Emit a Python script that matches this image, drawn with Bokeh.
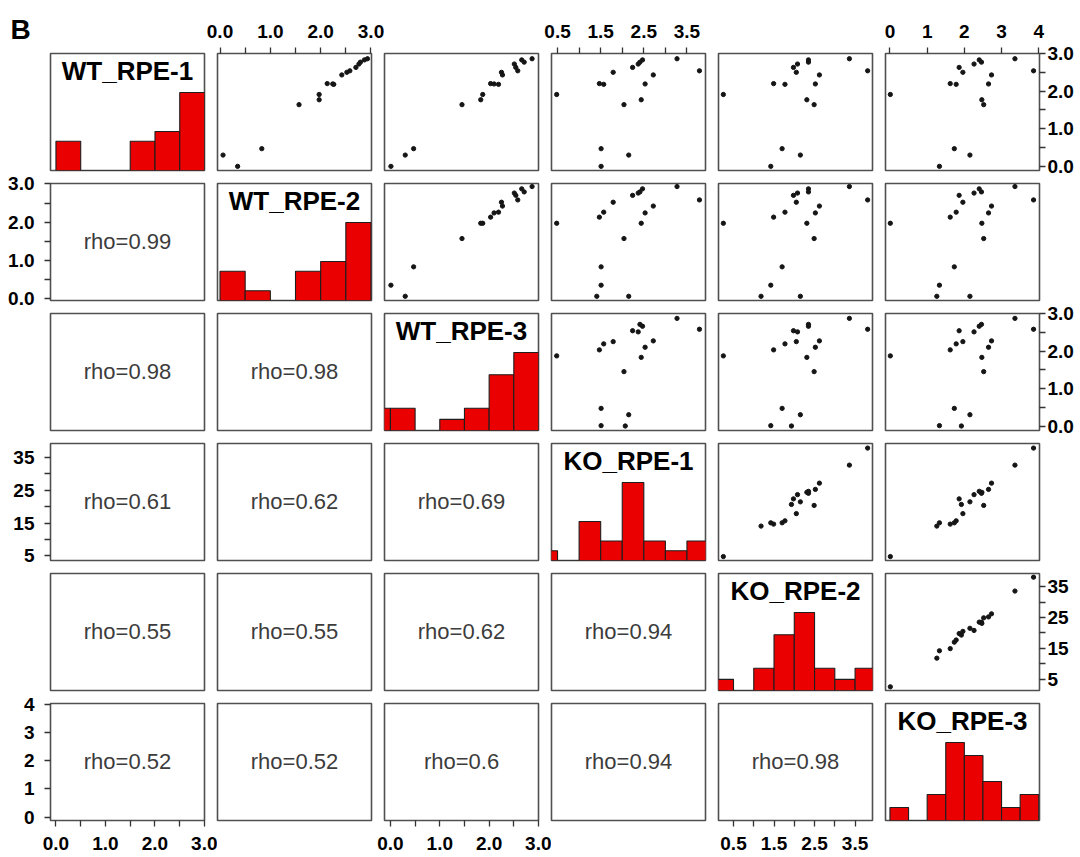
import math
from bokeh.plotting import figure
from bokeh.models import GridBox, Range1d, LinearAxis, FixedTicker, NumeralTickFormatter
from bokeh.core.properties import value
from bokeh.embed import file_html
from bokeh.resources import INLINE

nan = float("nan")

# ---------------- data ----------------
names = ["WT_RPE-1", "WT_RPE-2", "WT_RPE-3", "KO_RPE-1", "KO_RPE-2", "KO_RPE-3"]

wt_rpe_1 = [1.91, 2.20, 2.18, 2.50, 1.64, 2.63, 2.72, 2.77, 2.83, 1.77, 2.19, 2.43, 2.86, 2.54, 0.47, 0.00, nan, 0.30, nan]
wt_rpe_2 = [1.97, 2.13, 2.26, 2.52, 1.57, 2.70, 2.76, 2.79, 2.87, 1.97, 2.24, 2.42, 2.93, 2.58, 0.83, 0.35, 0.06, 0.06, nan]
wt_rpe_3 = [1.87, 2.03, 2.19, 2.25, 1.45, 2.54, 2.51, 2.71, 2.66, 1.83, 2.10, 2.27, 2.87, 2.58, 0.47, 0.01, nan, 0.30, 0.00]
ko_rpe_1 = [0.48, 1.47, 1.57, 1.79, 2.04, 2.24, 2.37, 2.41, 2.47, 2.44, 2.53, 2.72, 3.27, 3.79, 1.51, 1.51, 1.41, 2.15, 2.07]
ko_rpe_2 = [0.25, 1.49, 1.77, 2.05, 2.49, 1.98, 2.08, 2.35, 2.35, 2.31, 2.52, 2.62, 3.36, 3.81, 1.70, 1.42, 1.18, 2.15, 1.93]
ko_rpe_3 = [0.01, 1.62, 1.78, 1.96, 2.52, 1.86, 2.26, 2.46, 2.40, 2.47, 2.65, 2.73, 3.36, 3.86, 1.73, 1.33, 1.26, 2.15, 1.92]
series = [wt_rpe_1, wt_rpe_2, wt_rpe_3, ko_rpe_1, ko_rpe_2, ko_rpe_3]

# histogram bins (edges) and counts on the diagonal
hist_breaks = [
    [0, 0.5, 1, 1.5, 2, 2.5, 3],
    [0, 0.5, 1, 1.5, 2, 2.5, 3],
    [-0.5, 0, 0.5, 1, 1.5, 2, 2.5, 3],
    [0, 0.5, 1, 1.5, 2, 2.5, 3, 3.5, 4],
    [0, 0.5, 1, 1.5, 2, 2.5, 3, 3.5, 4],
    [0, 0.5, 1, 1.5, 2, 2.5, 3, 3.5, 4],
]
hist_counts = [
    [3, 0, 0, 3, 4, 8],
    [3, 1, 0, 3, 4, 8],
    [2, 2, 0, 1, 2, 5, 7],
    [1, 0, 4, 2, 8, 2, 1, 2],
    [1, 0, 2, 5, 7, 2, 1, 2],
    [1, 0, 2, 6, 5, 3, 1, 2],
]

# Spearman rho shown in the lower panels, row by row
rho_values = [0.99,
              0.98, 0.98,
              0.61, 0.62, 0.69,
              0.55, 0.55, 0.62, 0.94,
              0.52, 0.52, 0.6, 0.94, 0.98]

# axis ranges and ticks for each variable
var_ranges = [(-0.11, 3.0), (-0.05, 3.01), (-0.12, 3.0), (0.36, 3.93), (0.13, 3.93), (-0.12, 4.02)]
tick_major = [[0, 1, 2, 3], [0, 1, 2, 3], [0, 1, 2, 3], [0.5, 1.5, 2.5, 3.5], [0.5, 1.5, 2.5, 3.5], [0, 1, 2, 3, 4]]
tick_minor = [[0.5, 1.5, 2.5], [0.5, 1.5, 2.5], [0.5, 1.5, 2.5], [1, 2, 3], [1, 2, 3], []]
tick_format = ["0.0", "0.0", "0.0", "0.0", "0.0", "0"]
y_label_scale = [1, 1, 1, 10, 10, 1]

panel_letter = "B"

# ---------------- layout ----------------
FW, FH, GAP = 154, 117, 13
LEFT, RIGHT, TOP, BOTTOM = 50, 41, 53, 37
FONT = "Liberation Sans"

top_cols = {1, 3, 5}
bottom_cols = {0, 2, 4}
left_rows = {1, 3, 5}
right_rows = {0, 2, 4}


def style_axis(ax, standoff):
    ax.major_label_text_font = FONT
    ax.major_label_text_font_style = "bold"
    ax.major_label_text_font_size = "19px"
    ax.major_label_text_color = "black"
    ax.axis_line_color = None
    ax.major_tick_out = 6
    ax.major_tick_in = 0
    ax.minor_tick_out = 6
    ax.minor_tick_in = 0
    ax.major_tick_line_color = "#333333"
    ax.minor_tick_line_color = "#333333"
    ax.major_tick_line_width = 1.3
    ax.minor_tick_line_width = 1.3
    ax.major_label_standoff = standoff


def x_axis(v, standoff):
    ax = LinearAxis(ticker=FixedTicker(ticks=tick_major[v], minor_ticks=tick_minor[v]),
                    formatter=NumeralTickFormatter(format=tick_format[v]))
    style_axis(ax, standoff)
    return ax


def y_axis(p, v, standoff):
    s = y_label_scale[v]
    kw = {}
    if s != 1:
        lo, hi = var_ranges[v]
        p.extra_y_ranges = {"lab": Range1d(lo * s, hi * s)}
        kw["y_range_name"] = "lab"
    ax = LinearAxis(ticker=FixedTicker(ticks=[t * s for t in tick_major[v]],
                                       minor_ticks=[t * s for t in tick_minor[v]]),
                    formatter=NumeralTickFormatter(format="0" if s != 1 else tick_format[v]), **kw)
    style_axis(ax, standoff)
    return ax


rho_iter = iter(rho_values)
rho_map = {}
for r in range(6):
    for c in range(r):
        rho_map[(r, c)] = next(rho_iter)


def make_panel(r, c):
    bl = LEFT if c == 0 else GAP
    br = RIGHT if c == 5 else GAP
    bt = TOP if r == 0 else GAP
    bb = BOTTOM if r == 5 else GAP
    xr = Range1d(*var_ranges[c])
    yr = Range1d(0, 1.5) if r == c else Range1d(*var_ranges[r])
    p = figure(width=bl + FW + br, height=bt + FH + bb, x_range=xr, y_range=yr,
               output_backend="svg", toolbar_location=None,
               x_axis_location=None, y_axis_location=None,
               title=(panel_letter if (r, c) == (0, 0) else None),
               min_border_left=bl, min_border_right=br,
               min_border_top=bt, min_border_bottom=bb)
    p.grid.visible = False
    p.background_fill_color = "white"
    p.border_fill_color = None
    p.outline_line_color = "#505050"
    p.outline_line_width = 1.6

    if (r, c) == (0, 0):
        p.title.text_font = FONT
        p.title.text_font_size = "28px"
        p.title.text_font_style = "bold"
        p.title.text_color = "black"
        p.title.align = "left"
        p.title.offset = -40
        p.title.standoff = 17

    if r == c:
        br_ = hist_breaks[r]
        cnt = hist_counts[r]
        m = max(cnt)
        p.quad(left=br_[:-1], right=br_[1:], bottom=[0] * len(cnt), top=[k / m for k in cnt],
               fill_color="#ea0000", line_color="#1e1e1e", line_width=1.1)
        lo, hi = var_ranges[c]
        p.text(x=[(lo + hi) / 2], y=[1.5], text=[names[r]], y_offset=17,
               text_font=value(FONT), text_font_style="bold", text_font_size="26px",
               text_align="center", text_baseline="alphabetic", text_color="black")
    elif r < c:
        p.scatter(x=series[c], y=series[r], size=4.3, fill_color="#151515", line_color="#151515")
    else:
        xlo, xhi = var_ranges[c]
        ylo, yhi = var_ranges[r]
        p.text(x=[(xlo + xhi) / 2], y=[(ylo + yhi) / 2], text=["rho=%s" % rho_map[(r, c)]],
               y_offset=-1, text_font=value(FONT), text_font_size="22px",
               text_align="center", text_baseline="alphabetic", text_color="#3c3c3c")

    if r == 0 and c in top_cols:
        p.add_layout(x_axis(c, 10), "above")
    if r == 5 and c in bottom_cols:
        p.add_layout(x_axis(c, 10), "below")
    if c == 0 and r in left_rows:
        p.add_layout(y_axis(p, r, 10), "left")
    if c == 5 and r in right_rows:
        p.add_layout(y_axis(p, r, 2), "right")
    return p


children = []
for r in range(6):
    for c in range(6):
        p = make_panel(r, c)
        rr = 0 if r == 0 else 2 * r - 1
        rs = 2 if r in (0, 5) else 3
        cc = 0 if c == 0 else 2 * c - 1
        cs = 2 if c in (0, 5) else 3
        children.append((p, rr, cc, rs, cs))

row_tracks = [TOP + FH] + [GAP, FH] * 4 + [GAP, FH + BOTTOM]
col_tracks = [LEFT + FW] + [GAP, FW] * 4 + [GAP, FW + RIGHT]

grid = GridBox(children=children,
               rows=["%dpx" % v for v in row_tracks],
               cols=["%dpx" % v for v in col_tracks])

open("out.html", "w").write(file_html(grid, INLINE))
